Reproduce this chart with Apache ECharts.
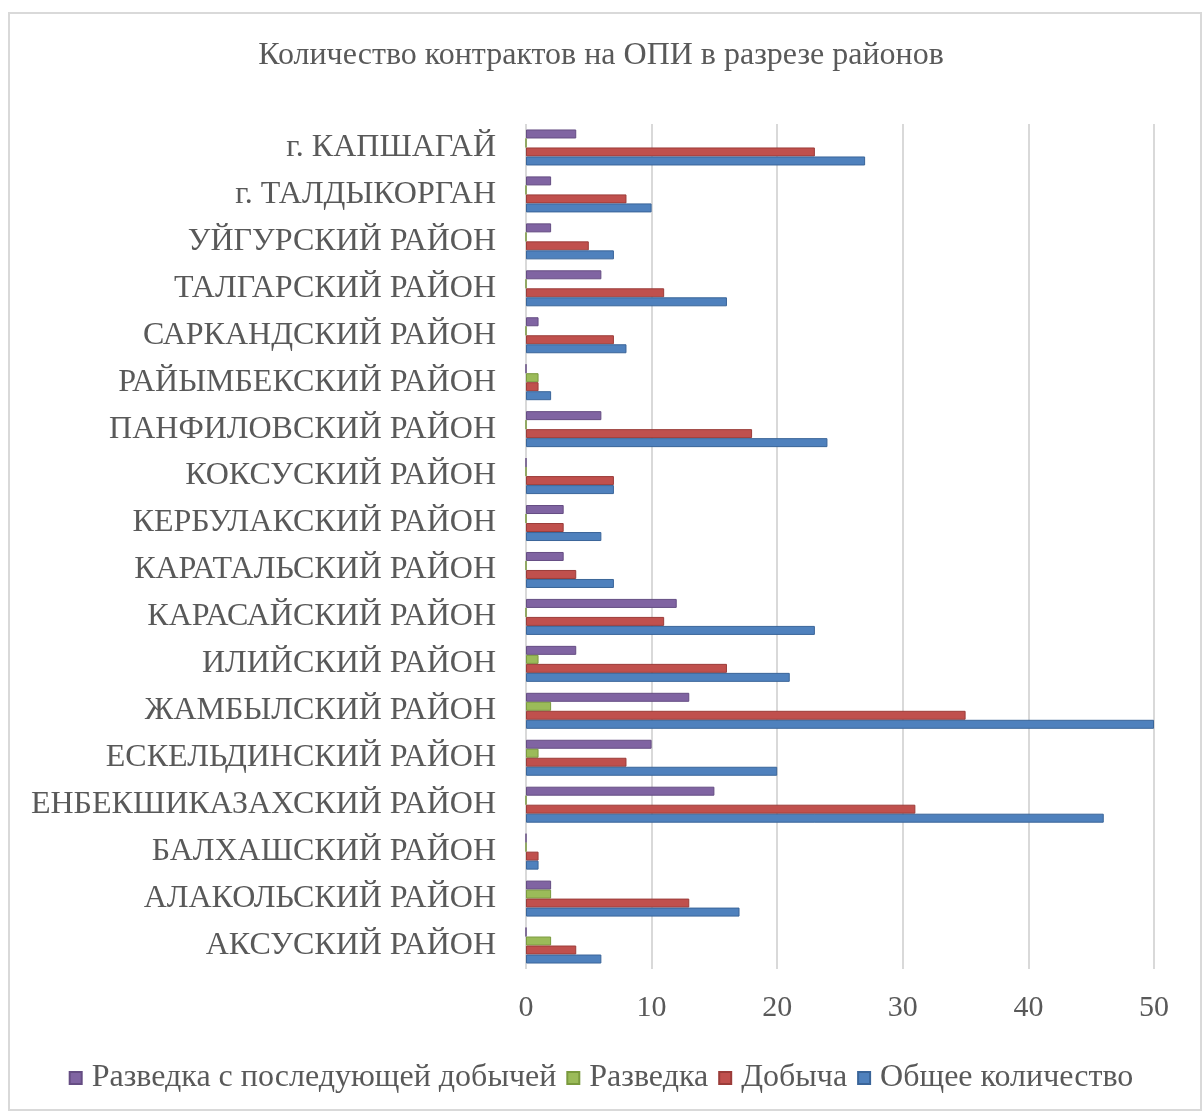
<!DOCTYPE html>
<html>
<head>
<meta charset="utf-8">
<script src="https://cdn.jsdelivr.net/npm/echarts@6/dist/echarts.min.js"></script>
<style>
  html, body { margin: 0; padding: 0; background: #fff; }
  #chart { width: 1202px; height: 1111px; }
</style>
</head>
<body>
<div id="chart"></div>
<script>
// categories, bottom to top as drawn
const districts = [
  'АКСУСКИЙ РАЙОН',
  'АЛАКОЛЬСКИЙ РАЙОН',
  'БАЛХАШСКИЙ РАЙОН',
  'ЕНБЕКШИКАЗАХСКИЙ РАЙОН',
  'ЕСКЕЛЬДИНСКИЙ РАЙОН',
  'ЖАМБЫЛСКИЙ РАЙОН',
  'ИЛИЙСКИЙ РАЙОН',
  'КАРАСАЙСКИЙ РАЙОН',
  'КАРАТАЛЬСКИЙ РАЙОН',
  'КЕРБУЛАКСКИЙ РАЙОН',
  'КОКСУСКИЙ РАЙОН',
  'ПАНФИЛОВСКИЙ РАЙОН',
  'РАЙЫМБЕКСКИЙ РАЙОН',
  'САРКАНДСКИЙ РАЙОН',
  'ТАЛГАРСКИЙ РАЙОН',
  'УЙГУРСКИЙ РАЙОН',
  'г. ТАЛДЫКОРГАН',
  'г. КАПШАГАЙ'
]

const explorationMining = [0, 2, 0, 15, 10, 13, 4, 12, 3, 3, 0, 6, 0, 1, 6, 2, 2, 4]
const exploration = [2, 2, 0, 0, 1, 2, 1, 0, 0, 0, 0, 0, 1, 0, 0, 0, 0, 0]
const mining = [4, 13, 1, 31, 8, 35, 16, 11, 4, 3, 7, 18, 1, 7, 11, 5, 8, 23]
const totalCount = [6, 17, 1, 46, 20, 50, 21, 23, 7, 6, 7, 24, 2, 8, 16, 7, 10, 27]

const xTicks = [0, 10, 20, 30, 40, 50]

const FONT = '"Liberation Serif", "Times New Roman", serif'
const TEXT = '#595959'

const chart = echarts.init(document.getElementById('chart'))

function barSeries(name, data, color, border) {
  return {
    name: name,
    type: 'bar',
    data: data,
    barWidth: 9,
    barGap: '0%',
    barCategoryGap: '20%',
    itemStyle: {
      color: color,
      borderColor: border,
      borderWidth: 1
    }
  }
}

chart.setOption({
  animation: false,
  backgroundColor: '#fff',
  title: {
    text: 'Количество контрактов на ОПИ в разрезе районов',
    left: 'center',
    top: 35,
    textStyle: {
      fontFamily: FONT,
      fontSize: 32,
      fontWeight: 'normal',
      color: TEXT
    }
  },
  graphic: [{
    type: 'rect',
    shape: { x: 9, y: 13, width: 1192, height: 1097 },
    style: { fill: 'none', stroke: '#d9d9d9', lineWidth: 2 },
    silent: true
  }],
  legend: {
    bottom: 12,
    left: 'center',
    itemWidth: 12,
    itemHeight: 12,
    itemGap: 10,
    icon: 'rect',
    textStyle: {
      fontFamily: FONT,
      fontSize: 32,
      color: TEXT,
      padding: [0, 0, 0, 5]
    }
  },
  grid: {
    left: 526,
    right: 48,
    top: 124,
    bottom: 142,
    containLabel: false
  },
  xAxis: {
    type: 'value',
    min: xTicks[0],
    max: xTicks[xTicks.length - 1],
    interval: 10,
    axisLine: { show: false },
    axisTick: { show: false },
    splitLine: { lineStyle: { color: '#d9d9d9', width: 2 } },
    axisLabel: {
      fontFamily: FONT,
      fontSize: 30,
      color: TEXT,
      margin: 24
    }
  },
  yAxis: {
    type: 'category',
    data: districts,
    axisLine: { show: false },
    axisTick: { show: false },
    axisLabel: {
      fontFamily: FONT,
      fontSize: 32,
      color: TEXT,
      margin: 30
    }
  },
  series: [
    barSeries('Разведка с последующей добычей', explorationMining, '#8064A2', '#654d83'),
    barSeries('Разведка', exploration, '#9BBB59', '#7a9a3e'),
    barSeries('Добыча', mining, '#C0504D', '#9b3c39'),
    barSeries('Общее количество', totalCount, '#4F81BD', '#3a6599')
  ]
})
</script>
</body>
</html>
